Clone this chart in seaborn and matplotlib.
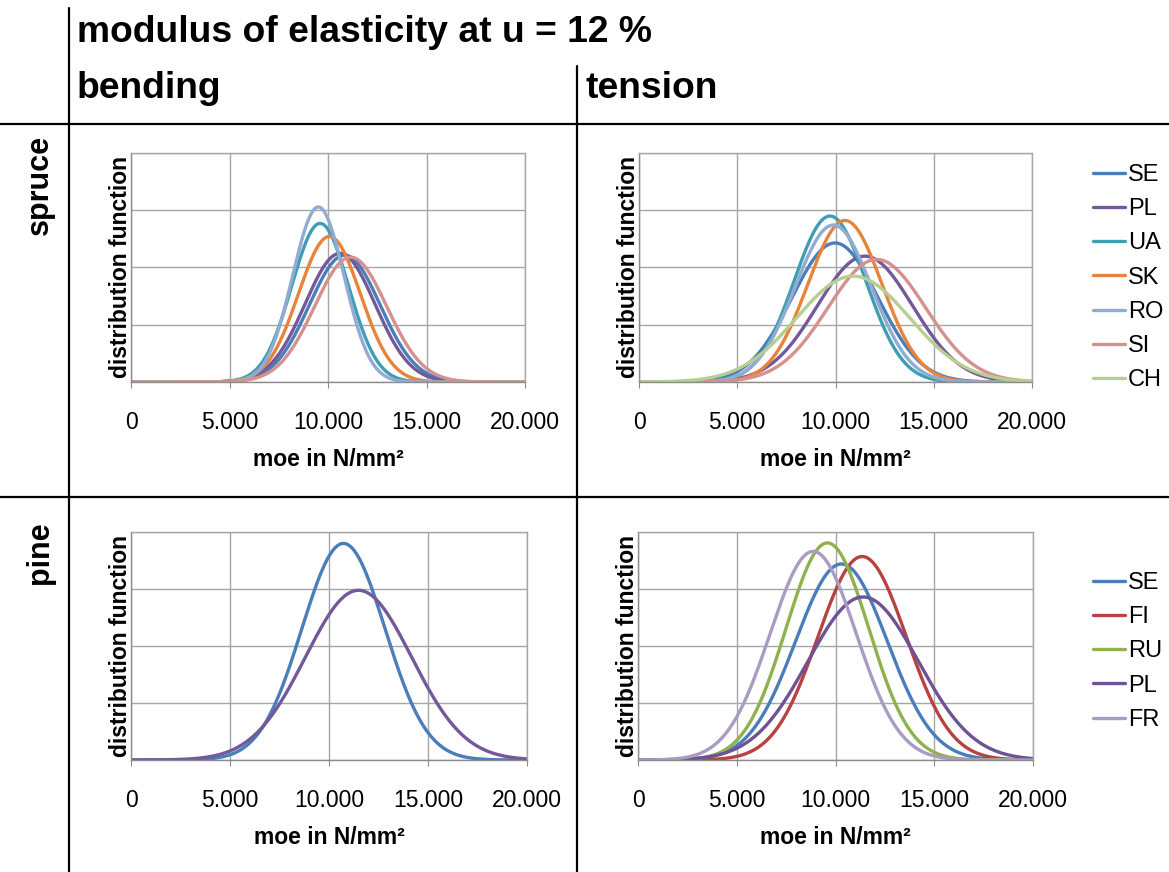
import numpy as np
import pandas as pd
import matplotlib
matplotlib.use('Agg')
import matplotlib.pyplot as plt
from matplotlib.lines import Line2D
from matplotlib.ticker import FuncFormatter
import seaborn as sns

# mean and standard deviation of moe (N/mm²)
spruce_bend_countries = ['SE', 'PL', 'UA', 'SK', 'RO', 'SI']
spruce_bend_mean = [10850, 10610, 9600, 10070, 9510, 11150]
spruce_bend_sd = [1800, 1775, 1440, 1570, 1305, 1830]

spruce_tens_countries = ['SE', 'PL', 'UA', 'SK', 'RO', 'SI', 'CH']
spruce_tens_mean = [9975, 11500, 9720, 10480, 9890, 12100, 10900]
spruce_tens_sd = [2190, 2420, 1835, 1885, 1940, 2485, 2875]

pine_bend_countries = ['SE', 'PL']
pine_bend_mean = [10730, 11490]
pine_bend_sd = [2100, 2680]

pine_tens_countries = ['SE', 'FI', 'RU', 'PL', 'FR']
pine_tens_mean = [10300, 11350, 9590, 11400, 8870]
pine_tens_sd = [2320, 2235, 2095, 2790, 2180]

x_ticks = [0, 5000, 10000, 15000, 20000]

colors = {'SE': '#4a7ebb', 'PL': '#73599a', 'UA': '#3f9db4', 'SK': '#e8843a',
          'RO': '#91abd2', 'SI': '#d4918f', 'CH': '#b5cf90',
          'FI': '#b8423f', 'RU': '#8fb24e', 'FR': '#a99bc2'}
colors_pine_tens = dict(colors, PL='#6f5295')

sns.set_style('white')
plt.rcParams['font.family'] = ['Liberation Sans', 'DejaVu Sans']
plt.rcParams['text.color'] = 'black'
plt.rcParams['axes.labelcolor'] = 'black'
plt.rcParams['xtick.color'] = 'black'

xs = np.linspace(0, 20000, 401)


def curves(countries, means, sds):
    rows = []
    for c, m, s in zip(countries, means, sds):
        pdf = np.exp(-0.5 * ((xs - m) / s) ** 2) / (s * np.sqrt(2 * np.pi))
        rows.append(pd.DataFrame({'moe': xs, 'pdf': pdf, 'country': c}))
    return pd.concat(rows, ignore_index=True)


fig = plt.figure(figsize=(11.69, 8.72), dpi=100)
W, H = 1169, 872


def axes_px(l, t, r, b):
    return fig.add_axes([l / W, 1 - b / H, (r - l) / W, (b - t) / H])


def panel(ax, df, ymax, pal, legend_top=None):
    sns.lineplot(data=df, x='moe', y='pdf', hue='country', palette=pal,
                 linewidth=2.4, ax=ax, legend=legend_top is not None)
    ax.set_xlim(0, 20000)
    ax.set_ylim(0, ymax)
    ax.set_xticks(x_ticks)
    ax.set_yticks(np.linspace(0, ymax, 5))
    ax.xaxis.set_major_formatter(FuncFormatter(lambda v, p: f'{int(v):,}'.replace(',', '.')))
    ax.set_yticklabels([])
    ax.grid(True, color='#a6a6a6', linewidth=1)
    for s in ax.spines.values():
        s.set_color('#a6a6a6')
        s.set_linewidth(1)
    ax.spines['left'].set_color('#8c8c8c')
    ax.spines['bottom'].set_color('#8c8c8c')
    ax.tick_params(axis='x', direction='out', length=4, color='#8c8c8c',
                   labelsize=16.5, pad=17, bottom=True)
    ax.tick_params(axis='y', length=0, pad=0)
    ax.set_xlabel('moe in N/mm²', fontsize=16.5, fontweight='bold', labelpad=10)
    ax.set_ylabel('distribution function', fontsize=16.5, fontweight='bold', labelpad=-1)
    if legend_top is not None:
        ax.legend(loc='upper left', bbox_to_anchor=(1081 / W, 1 - legend_top / H),
                  bbox_transform=fig.transFigure, frameon=False, fontsize=17,
                  handlelength=1.36, handletextpad=0.13, labelspacing=0.52,
                  borderpad=0, title=None)


ax1 = axes_px(131, 153, 525, 382)
panel(ax1, curves(spruce_bend_countries, spruce_bend_mean, spruce_bend_sd), 4e-4, colors)
ax2 = axes_px(639, 153, 1032, 382)
panel(ax2, curves(spruce_tens_countries, spruce_tens_mean, spruce_tens_sd), 3e-4, colors, legend_top=152)
ax3 = axes_px(131, 532, 527, 760)
panel(ax3, curves(pine_bend_countries, pine_bend_mean, pine_bend_sd), 2e-4, colors)
ax4 = axes_px(638, 532, 1033, 760)
panel(ax4, curves(pine_tens_countries, pine_tens_mean, pine_tens_sd), 2e-4, colors_pine_tens, legend_top=560)

# frame lines of the table layout
for (x0, y0, x1, y1) in [(69, 8, 69, 872), (577, 66, 577, 872), (0, 124, 1169, 124), (0, 497, 1169, 497)]:
    fig.add_artist(Line2D([x0 / W, x1 / W], [1 - y0 / H, 1 - y1 / H], color='black', linewidth=1.6))

fig.text(77 / W, 1 - 32 / H, 'modulus of elasticity at u = 12 %', fontsize=26.8, fontweight='bold', va='center')
fig.text(77 / W, 1 - 88 / H, 'bending', fontsize=26.8, fontweight='bold', va='center')
fig.text(585 / W, 1 - 88 / H, 'tension', fontsize=26.8, fontweight='bold', va='center')
fig.text(40 / W, 1 - 185 / H, 'spruce', fontsize=22, fontweight='bold', rotation=90, ha='center', va='center')
fig.text(40 / W, 1 - 553 / H, 'pine', fontsize=22, fontweight='bold', rotation=90, ha='center', va='center')

fig.savefig('out.png', dpi=100)
